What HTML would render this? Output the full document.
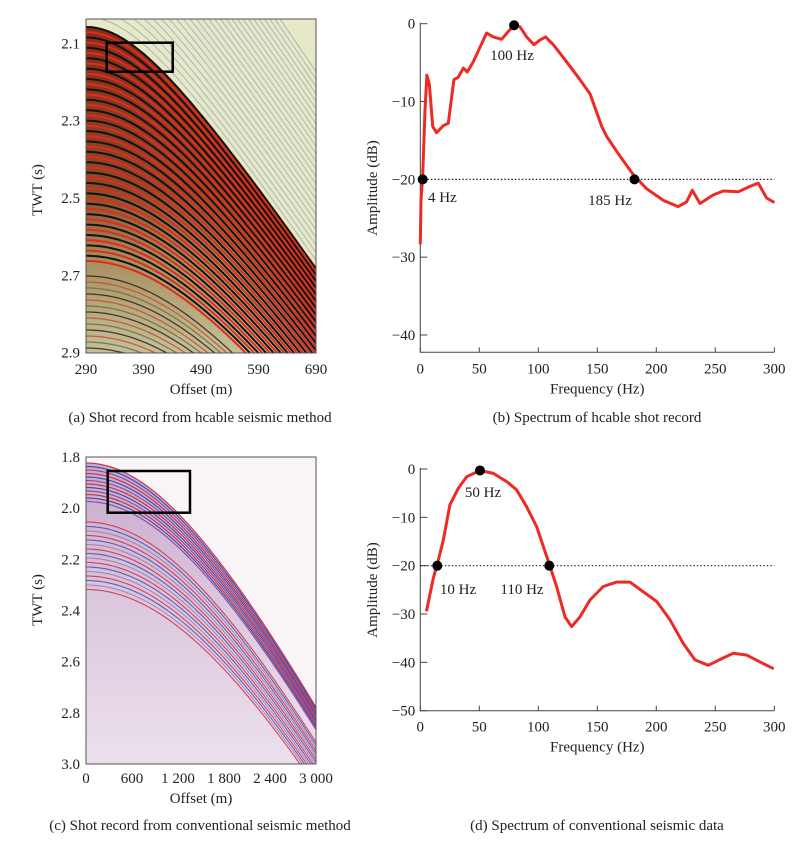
<!DOCTYPE html>
<html><head><meta charset="utf-8"><style>
body{margin:0;background:#fff;}
svg{display:block;font-family:"Liberation Serif",serif;}
</style></head><body>
<svg id="fig" width="808" height="841" viewBox="0 0 808 841" xmlns="http://www.w3.org/2000/svg">
<defs>
<clipPath id="clipA"><rect x="86" y="19" width="230" height="334"/></clipPath>
<clipPath id="clipC"><rect x="86" y="457" width="230" height="307"/></clipPath>
<linearGradient id="gA" x1="0" y1="0" x2="0" y2="1">
<stop offset="0" stop-color="#8a2a18"/><stop offset="0.5" stop-color="#8a4a2a"/><stop offset="0.72" stop-color="#a89060"/><stop offset="1" stop-color="#c4c09a"/></linearGradient>
<linearGradient id="gC" x1="0" y1="0" x2="0" y2="1">
<stop offset="0" stop-color="#c8a8cc"/><stop offset="0.5" stop-color="#dccadf"/><stop offset="1" stop-color="#ece0ec"/></linearGradient>
</defs>
<g id="panelA"></g>
<g id="panelC"></g>
<g id="panelB"></g>
<g id="panelD"></g>
</svg>
<script>
// ---- spectrum data (b) ----
const freqB=[0,0.6,2,4,5.6,7.6,10.5,13.8,19.5,23.7,28.5,32,36.4,39.8,44.9,56.2,61.9,68.9,74.6,79.4,84.5,90.1,96.3,101.4,106.2,112.7,124,135.3,143.8,153.7,158,167.8,181,191.8,205.9,218.6,225.7,230.5,237,248.3,256.8,269.5,279.4,286.4,293.5,299.2];
const ampB=[-28.2,-22.7,-19.5,-11.1,-6.6,-7.7,-13.2,-14.0,-13.1,-12.8,-7.2,-6.9,-5.7,-6.2,-4.9,-1.2,-1.7,-2.0,-1.0,-0.2,-0.4,-1.7,-2.7,-2.1,-1.7,-2.7,-4.9,-7.2,-9.0,-13.2,-14.5,-16.7,-19.5,-21.2,-22.7,-23.5,-22.9,-21.4,-23.1,-22.0,-21.5,-21.6,-20.9,-20.5,-22.4,-22.9];
const markFreqB=[2,79.5,181.5];
const markAmpB=[-20,-0.2,-20];
const markLabelB=["4 Hz","100 Hz","185 Hz"];
const yTicksB=[0,-10,-20,-30,-40];
const xTicks=[0,50,100,150,200,250,300];
// ---- spectrum data (d) ----
const freqD=[5.4,11,14.4,19.5,25.1,32.2,39.3,50.6,61.9,73.2,81.6,90.1,98.6,109.3,115.5,122.6,128.2,135.3,143.8,155.1,166.4,177.7,189,200.3,211.6,222.9,232.8,244.1,254,265.3,276.6,287.9,298.6];
const ampD=[-29.2,-22.6,-19.7,-14.7,-7.4,-4.0,-1.6,-0.3,-0.9,-2.6,-4.3,-7.8,-11.9,-19.7,-24.3,-30.6,-32.6,-30.6,-27.1,-24.3,-23.4,-23.4,-25.4,-27.4,-31.2,-36.1,-39.5,-40.6,-39.4,-38.1,-38.5,-39.9,-41.2];
const markFreqD=[14.4,50.6,109.3];
const markAmpD=[-20,-0.3,-20];
const markLabelD=["10 Hz","50 Hz","110 Hz"];
const yTicksD=[0,-10,-20,-30,-40,-50];
// ---- seismic axes ----
const twtTicksA=["2.1","2.3","2.5","2.7","2.9"];
const offTicksA=["290","390","490","590","690"];
const twtTicksC=["1.8","2.0","2.2","2.4","2.6","2.8","3.0"];
const offTicksC=["0","600","1 200","1 800","2 400","3 000"];

const NS="http://www.w3.org/2000/svg";
function mk(tag,attrs,parent){const e=document.createElementNS(NS,tag);for(const k in attrs)e.setAttribute(k,attrs[k]);parent.appendChild(e);return e;}
function txt(s,x,y,anchor,parent,size){const t=mk('text',{x:x,y:y,'text-anchor':anchor||'middle','font-size':size||15,fill:'#222'},parent);t.textContent=s;return t;}

function spectrum(g,cfg){
  const sx=f=>cfg.x0+(f-0)/300*(cfg.x1-cfg.x0);
  const sy=a=>cfg.y0+(0-a)/cfg.yMinSpan*(cfg.yMinPix-cfg.y0);
  const ax=mk('path',{d:`M${cfg.x0} ${cfg.y0-1} V${cfg.axisBottom} H${cfg.x1}`,fill:'none',stroke:'#444','stroke-width':1},g);
  
  
  cfg.yTicks.forEach(v=>{
    const y=sy(v);
    mk('line',{x1:cfg.x0,x2:cfg.x0+7,y1:y,y2:y,stroke:'#444'},g);
    const t=txt(v===0?'0':'\u2212'+Math.abs(v),cfg.x0-5,y+5,'end',g);
    
    
  });
  xTicks.forEach(v=>{
    const x=sx(v);
    mk('line',{x1:x,x2:x,y1:cfg.axisBottom,y2:cfg.axisBottom-5,stroke:'#444'},g);
    const t=txt(String(v),x,cfg.axisBottom+21,'middle',g);
    
    
  });
  const ref=mk('line',{x1:sx(0),x2:sx(300),y1:sy(-20),y2:sy(-20),stroke:'#222','stroke-width':1.2,'stroke-dasharray':'1.5 2'},g);
  
  
  const pts=cfg.freq.map((f,i)=>sx(f).toFixed(1)+','+sy(cfg.amp[i]).toFixed(1)).join(' ');
  const pl=mk('polyline',{points:pts,fill:'none',stroke:'#ee2a24','stroke-width':3,'stroke-linejoin':'round','stroke-linecap':'round'},g);
  
  
  cfg.mf.forEach((f,i)=>{
    const c=mk('circle',{cx:sx(f),cy:sy(cfg.ma[i]),r:5,fill:'#000'},g);
    
    
    const t=txt(cfg.ml[i],cfg.lblPos[i][0],cfg.lblPos[i][1],cfg.lblPos[i][2],g);
    
    
  });
  const xl=txt('Frequency (Hz)',(cfg.x0+cfg.x1)/2,cfg.axisBottom+41,'middle',g);
  
  
  const yl=txt('Amplitude (dB)',0,0,'middle',g);
  yl.setAttribute('transform',`translate(377,${cfg.yLabelY}) rotate(-90)`);
  
  
  const cap=txt(cfg.caption,597,cfg.capY,'middle',g);
  
  
}
spectrum(document.getElementById('panelB'),{x0:420.3,x1:774.3,y0:23.7,yMinSpan:40,yMinPix:335,axisBottom:352.3,
  yTicks:yTicksB,freq:freqB,amp:ampB,mf:markFreqB,ma:markAmpB,ml:markLabelB,
  lblPos:[[428,202,'start'],[512,60,'middle'],[610,205,'middle']],yLabelY:188,capY:422,caption:'(b) Spectrum of hcable shot record'});
spectrum(document.getElementById('panelD'),{x0:420.3,x1:774.3,y0:469,yMinSpan:50,yMinPix:710.7,axisBottom:710.7,
  yTicks:yTicksD,freq:freqD,amp:ampD,mf:markFreqD,ma:markAmpD,ml:markLabelD,
  lblPos:[[458,594,'middle'],[483,497,'middle'],[522,594,'middle']],yLabelY:590,capY:830,caption:'(d) Spectrum of conventional seismic data'});

// seismic panels: smooth hyperbolic events
function seismic(g,cfg){
  const L=86,R=316,T=cfg.T,B=cfg.B;
  const bg=mk('rect',{x:L,y:T,width:R-L,height:B-T,fill:cfg.bg},g);
  
  
  const cg=mk('g',{'clip-path':`url(#${cfg.clip})`},g);
  const hyp=(x,off,a)=>{const d=x-L;return T+cfg.start+off+Math.sqrt(a*a+(cfg.s*d)*(cfg.s*d))-a;};
  const curve=(off,a)=>{let p='';for(let x=L;x<=R+2;x+=3)p+=(p?' L':'M')+x+' '+hyp(x,off,a).toFixed(1);return p;};
  mk('path',{d:curve(0,cfg.a)+` L${R+2} ${B} L${L} ${B} Z`,fill:cfg.fill},cg);
  for(let k=1;k<=cfg.above;k++){mk('path',{d:curve(-k*cfg.aboveStep,cfg.a-k*2),fill:'none',stroke:cfg.faint,'stroke-width':1},cg);}
  cfg.bands.forEach(bd=>{
    for(let k=0;k<bd.n;k++){
      mk('path',{d:curve(bd.off+k*bd.step,cfg.a+(bd.off+k*bd.step)*bd.flat),fill:'none',stroke:bd.colors[k%bd.colors.length],'stroke-width':bd.w,opacity:bd.op||1},cg);}
  });
  mk('rect',{x:L,y:T,width:R-L,height:B-T,fill:'none',stroke:'#555','stroke-width':1},g);
  const bx=mk('rect',{x:cfg.box[0],y:cfg.box[1],width:cfg.box[2],height:cfg.box[3],fill:'none',stroke:'#000','stroke-width':2.5},g);
  
  
  cfg.yt.forEach((s,i)=>{const y=T+cfg.yFirst+i*cfg.yStep;const t=txt(s,80,y+5,'end',g);
    });
  cfg.xt.forEach((s,i)=>{const x=L+i*(R-L)/(cfg.xt.length-1);const t=txt(s,x,cfg.xLblY,'middle',g);
    });
  const xl=txt('Offset (m)',201,cfg.xLblY+20,'middle',g);
  
  const yl=txt('TWT (s)',0,0,'middle',g);yl.setAttribute('transform',`translate(42,${cfg.twtY}) rotate(-90)`);
  
  const cap=txt(cfg.caption,200,cfg.capY,'middle',g);
  
}
seismic(document.getElementById('panelA'),{T:19,B:353,bg:'#e6e8c8',fill:'url(#gA)',faint:'#aab6b8',above:26,aboveStep:9,clip:'clipA',start:7,s:1.5,a:125,
  bands:[{off:1,n:46,step:5.2,w:2,flat:0.6,colors:['#111','#e42a1a','#1a1210','#d8301c']},{off:250,n:14,step:6,w:1.3,flat:0.6,op:0.8,colors:['#2a1a14','#c84a2a','#6a6a40']}],
  box:[106.7,42.7,66,29],yt:twtTicksA,yFirst:24.3,yStep:77.35,xt:offTicksA,xLblY:374,twtY:190,capY:422,caption:'(a) Shot record from hcable seismic method'});
seismic(document.getElementById('panelC'),{T:457,B:764,bg:'#f8f4f8',fill:'url(#gC)',faint:'#f2e8f0',above:0,aboveStep:8,clip:'clipC',start:6,s:2,a:311,
  bands:[{off:0,n:12,step:3.5,w:1.1,flat:1,colors:['#d02a3a','#3a4aa8','#8a4a9a']},{off:59,n:16,step:4.5,w:1.1,flat:1,op:0.85,colors:['#d8283a','#4050b0','#a07ab0']}],
  box:[107.7,471,82.3,41.7],yt:twtTicksC,yFirst:0,yStep:51.17,xt:offTicksC,xLblY:783,twtY:600,capY:830,caption:'(c) Shot record from conventional seismic method'});
</script>
</body></html>
